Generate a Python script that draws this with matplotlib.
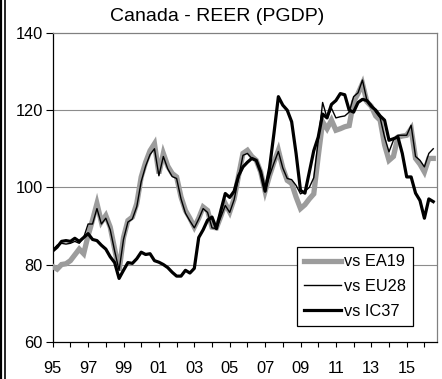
import numpy as np
import matplotlib
matplotlib.use('Agg')
import matplotlib.pyplot as plt
from matplotlib.lines import Line2D

plt.rcParams['font.family'] = ['Liberation Sans', 'DejaVu Sans']

# Quarterly REER indices, 1995Q1 - 2016Q3
start_year = 1995
ea19 = [79.5, 78.8, 80.0, 80.2, 81.0, 82.5, 84.0, 82.8, 87.5, 91.5, 95.8, 91.0,
        92.7, 89.7, 84.0, 78.4, 87.0, 91.4, 92.3, 95.8, 102.7, 106.5, 109.5, 111.3,
        103.6, 108.8, 105.5, 103.6, 102.7, 97.5, 94.0, 92.0, 89.7, 92.0, 94.9, 94.0,
        89.7, 89.5, 92.5, 95.8, 93.6, 97.0, 103.0, 108.8, 109.6, 108.0, 107.0, 104.0,
        99.0, 103.0, 106.5, 109.6, 105.0, 101.8, 101.0, 97.5, 94.5, 95.5, 97.0, 98.3,
        108.0, 117.0, 115.2, 117.4, 114.8, 115.2, 115.7, 116.0, 122.2, 124.3, 126.9, 122.2,
        121.0, 118.5, 117.4, 111.0, 107.0, 108.0, 113.0, 113.3, 113.5, 115.2, 107.5, 106.0,
        104.0, 107.5, 107.5]
eu28 = [83.8, 85.0, 85.5, 85.3, 85.5, 86.0, 85.5, 87.0, 90.5, 90.5, 94.5, 90.5,
        92.0, 89.0, 83.5, 78.5, 86.5, 91.0, 91.8, 95.0, 101.5, 105.5, 108.5, 110.0,
        103.0, 108.0, 104.8, 102.8, 102.3, 97.0, 93.3, 91.3, 89.5, 91.8, 94.5, 93.5,
        89.5, 89.3, 92.3, 95.3, 93.5, 96.8, 102.5, 108.3, 108.8, 107.5, 106.8, 104.3,
        99.0, 103.0, 106.3, 109.3, 105.0, 102.3, 102.0, 100.5, 98.3, 99.0, 100.0, 102.5,
        112.0, 122.0, 118.0, 120.5, 118.0, 118.3, 118.5, 119.5, 123.5, 124.5, 127.8, 122.6,
        121.5, 119.5, 118.0, 113.0, 109.2, 112.2, 113.5, 113.5, 113.5, 116.1, 108.0, 107.0,
        105.3, 108.8, 110.0]
ic37 = [83.5, 84.5, 86.0, 86.2, 86.0, 86.8, 86.0, 87.0, 88.0, 86.5, 86.2, 85.0,
        84.0, 82.0, 80.5, 76.4, 78.5, 80.5, 80.3, 81.5, 83.2, 82.6, 82.8, 81.0,
        80.6, 80.0, 79.2, 78.0, 77.0, 77.0, 78.5, 77.8, 79.0, 87.0, 89.0, 91.5,
        92.3, 89.3, 94.0, 98.4, 97.4, 99.0, 103.0, 105.3, 106.5, 107.5, 107.0, 104.0,
        99.0, 105.0, 114.0, 123.5, 121.3, 120.0, 117.0, 108.8, 99.2, 98.5, 104.0, 109.5,
        113.0, 119.0, 118.0, 121.5, 122.5, 124.3, 124.0, 120.0, 119.5, 122.0, 122.8, 122.5,
        121.0, 120.0, 118.5, 117.4, 112.2, 112.6, 113.1, 108.8, 102.7, 102.7, 98.5, 96.6,
        92.0, 97.0, 96.3]
series_labels = ['vs EA19', 'vs EU28', 'vs IC37']
tick_years = list(range(1995, 2016, 2))
tick_labels = ['%02d' % (y % 100) for y in tick_years]

t = start_year + np.arange(len(ea19)) / 4.0

W, H = 442, 379
fig = plt.figure(figsize=(W / 100, H / 100), dpi=100)
ax = fig.add_axes([52.7 / W, 1 - 341.7 / H, 384.3 / W, 308.7 / H])

# Gridlines
for v in (80, 100, 120):
    ax.axhline(v, color='#8c8c8c', lw=0.8, zorder=1)

ax.plot(t, ea19, color='#9c9c9c', lw=3.8, solid_joinstyle='miter', zorder=3)
ax.plot(t, eu28, color='black', lw=1.0, zorder=4)
ax.plot(t, ic37, color='black', lw=2.3, zorder=5)

ax.set_xlim(1995, 1995 + 384.3 / 17.7)
ax.set_ylim(60, 140)
ax.set_yticks([60, 80, 100, 120, 140])
ax.set_xticks(tick_years)
ax.set_xticklabels(tick_labels)
ax.set_xticks(range(1996, 2017, 2), minor=True)
ax.tick_params(axis='y', direction='out', length=5, width=0.8, pad=2, labelsize=11.8)
ax.tick_params(axis='x', which='both', direction='out', length=3.5, width=0.8,
               pad=10.5, labelsize=11.8)

for side in ('top', 'right'):
    ax.spines[side].set_color('#808080')
    ax.spines[side].set_linewidth(0.9)
for side in ('left', 'bottom'):
    ax.spines[side].set_color('black')
    ax.spines[side].set_linewidth(0.9)

handles = [Line2D([], [], color='#9c9c9c', lw=3.8),
           Line2D([], [], color='black', lw=1.0),
           Line2D([], [], color='black', lw=2.3)]
leg = ax.legend(handles, series_labels, loc='upper right',
                bbox_to_anchor=(0.9375, 0.307), borderaxespad=0,
                fontsize=11.8, handlelength=2.25, handletextpad=0.15,
                labelspacing=0.6, borderpad=0.45, fancybox=False,
                framealpha=1, edgecolor='black')
leg.get_frame().set_linewidth(0.9)
leg.set_zorder(6)

fig.text(0.492, 1 - 16.5 / H, 'Canada - REER (PGDP)', ha='center', va='center',
         fontsize=14)

# Double rule down the left edge
fig.add_artist(Line2D([1 / W, 1 / W], [0, 1], color='black', lw=1.6))
fig.add_artist(Line2D([5.2 / W, 5.2 / W], [0, 1], color='black', lw=1.2))

fig.savefig('out.png', dpi=100)
